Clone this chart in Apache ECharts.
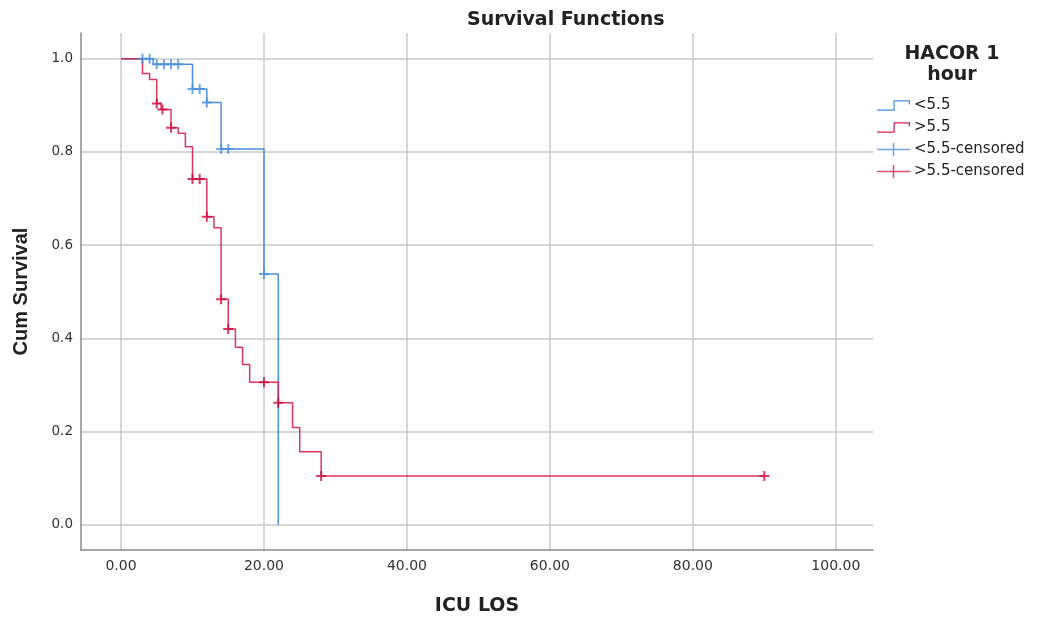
<!DOCTYPE html>
<html>
<head>
<meta charset="utf-8">
<title>Survival Functions</title>
<script src="https://cdn.jsdelivr.net/npm/echarts@6/dist/echarts.min.js"></script>
<style>
  html, body { margin: 0; padding: 0; background: #fff; }
  #chart { width: 1038px; height: 618px; }
</style>
</head>
<body>
<div id="chart"></div>
<script>
// Kaplan-Meier estimates by HACOR score at 1 hour: [ICU LOS (days), cumulative survival]
const lowSteps = [[0, 1.0], [4.5, 0.988], [10, 0.935], [12, 0.906], [14, 0.806], [20, 0.538], [22, 0.0]];
const highSteps = [[0, 1.0], [3, 0.968], [4, 0.955], [5, 0.904], [5.6, 0.891], [7, 0.852], [8, 0.840],
  [9, 0.811], [10, 0.742], [12, 0.661], [13, 0.637], [14, 0.484], [15, 0.420], [16, 0.381],
  [17, 0.344], [18, 0.306], [22, 0.262], [24, 0.209], [25, 0.157], [28, 0.105], [90, 0.105]];

// Censored observations
const lowCensored = [[3, 1.0], [4, 1.0], [5, 0.988], [6, 0.988], [7, 0.988], [8, 0.988], [10, 0.935],
  [11, 0.935], [12, 0.906], [14, 0.806], [15, 0.806], [20, 0.538]];
const highCensored = [[5, 0.904], [5.8, 0.891], [7, 0.852], [10, 0.742], [11, 0.742], [12, 0.661],
  [14, 0.484], [15, 0.420], [20, 0.306], [22, 0.262], [28, 0.105], [90, 0.105]];

const xTicks = [0, 20, 40, 60, 80, 100];
const yTicks = [0, 0.2, 0.4, 0.6, 0.8, 1.0];
const seriesNames = ['<5.5', '>5.5', '<5.5-censored', '>5.5-censored'];

const BLUE = '#4a90e2';
const RED = '#d8204f';
const RED_MARK = '#cc0a3c';
const FONT = '"DejaVu Sans", sans-serif';
const FONT_NARROW = '"Liberation Sans", Arial, sans-serif';

// legend glyphs: a step line and a censoring cross
const stepIcon = 'path://M0,10L17.2,10L17.2,1.2L30.8,1.2L30.8,4L32,4L32,0L16,0L16,8.8L0,8.8Z';
const crossIcon = 'path://M0,5.75L15.75,5.75L15.75,0L17.25,0L17.25,5.75L33,5.75L33,7.25L17.25,7.25L17.25,13L15.75,13L15.75,7.25L0,7.25Z';
// plot markers for censored cases
const plusMark = 'path://M0,4L4,4L4,0L6,0L6,4L10,4L10,6L6,6L6,10L4,10L4,6L0,6Z';

const chart = echarts.init(document.getElementById('chart'), null, { renderer: 'canvas' });

chart.setOption({
  backgroundColor: '#ffffff',
  animation: false,
  textStyle: { fontFamily: FONT },
  title: [
    {
      text: 'Survival Functions',
      left: 462, top: 6,
      textStyle: { fontFamily: FONT, fontSize: 19, fontWeight: 'bold', color: '#222' }
    },
    {
      text: 'HACOR 1\nhour',
      left: 947, top: 39,
      textAlign: 'center',
      textStyle: { fontFamily: FONT, fontSize: 19, fontWeight: 'bold', color: '#222', lineHeight: 21, align: 'center' }
    }
  ],
  legend: {
    orient: 'vertical',
    left: 877, top: 98,
    padding: 0,
    itemWidth: 33, itemHeight: 13, itemGap: 7,
    itemStyle: { borderWidth: 0 },
    textStyle: { fontFamily: FONT, fontSize: 15, lineHeight: 14, color: '#222', padding: [0, 0, 0, -1] },
    data: [
      { name: seriesNames[0], icon: stepIcon, itemStyle: { color: BLUE, borderWidth: 0 } },
      { name: seriesNames[1], icon: stepIcon, itemStyle: { color: RED, borderWidth: 0 } },
      { name: seriesNames[2], icon: crossIcon, itemStyle: { color: BLUE, borderWidth: 0 } },
      { name: seriesNames[3], icon: crossIcon, itemStyle: { color: RED, borderWidth: 0 } }
    ]
  },
  grid: { left: 81, top: 33, width: 792, height: 517, containLabel: false, outerBoundsMode: 'none' },
  xAxis: {
    type: 'value',
    min: -5.6, max: 105.2,
    name: 'ICU LOS',
    nameLocation: 'middle',
    nameGap: 47,
    nameTextStyle: { fontFamily: FONT, fontSize: 19, fontWeight: 'bold', color: '#222' },
    axisLine: { show: true, onZero: false, lineStyle: { color: '#8a8a8a', width: 1.5 } },
    axisTick: { show: false, customValues: xTicks },
    axisLabel: {
      customValues: xTicks,
      margin: 9,
      fontFamily: FONT, fontSize: 14, color: '#333',
      formatter: v => v.toFixed(2)
    },
    splitLine: { show: true, lineStyle: { color: '#c9c9c9', width: 1.5 } }
  },
  yAxis: {
    type: 'value',
    min: -0.054, max: 1.055,
    name: 'Cum Survival',
    nameLocation: 'middle',
    nameGap: 50,
    nameTextStyle: { fontFamily: FONT_NARROW, fontSize: 20, fontWeight: 'bold', color: '#222' },
    axisLine: { show: true, onZero: false, lineStyle: { color: '#8a8a8a', width: 1.5 } },
    axisTick: { show: false, customValues: yTicks },
    axisLabel: {
      customValues: yTicks,
      margin: 8,
      fontFamily: FONT, fontSize: 13.5, color: '#333',
      formatter: v => v.toFixed(1)
    },
    splitLine: { show: true, lineStyle: { color: '#c9c9c9', width: 1.5 } }
  },
  series: [
    {
      name: seriesNames[0], type: 'line', step: 'end',
      data: lowSteps, showSymbol: false, symbol: 'none',
      color: BLUE,
      lineStyle: { color: BLUE, width: 1.5 },
      z: 3
    },
    {
      name: seriesNames[1], type: 'line', step: 'end',
      data: highSteps, showSymbol: false, symbol: 'none',
      color: RED,
      lineStyle: { color: RED, width: 1.5, opacity: 0.9 },
      z: 4
    },
    {
      name: seriesNames[2], type: 'scatter',
      data: lowCensored,
      symbol: plusMark, symbolSize: 10,
      color: BLUE,
      itemStyle: { color: BLUE },
      z: 5
    },
    {
      name: seriesNames[3], type: 'scatter',
      data: highCensored,
      symbol: plusMark, symbolSize: 10,
      color: RED_MARK,
      itemStyle: { color: RED_MARK },
      z: 6
    }
  ]
});
</script>
</body>
</html>
